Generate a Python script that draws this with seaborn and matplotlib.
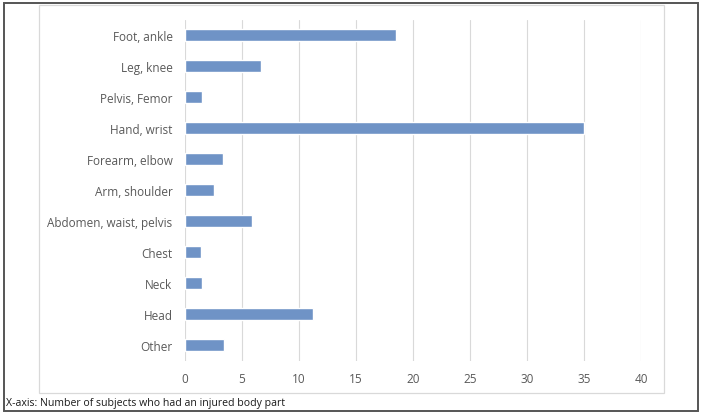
import matplotlib
matplotlib.use("Agg")
import matplotlib.pyplot as plt
import seaborn as sns
import pandas as pd
from matplotlib.patches import Rectangle

categories = ["Foot, ankle", "Leg, knee", "Pelvis, Femor", "Hand, wrist",
              "Forearm, elbow", "Arm, shoulder", "Abdomen, waist, pelvis",
              "Chest", "Neck", "Head", "Other"]
values = [18.5, 6.7, 1.5, 35.0, 3.3, 2.5, 5.9, 1.4, 1.5, 11.2, 3.4]
x_ticks = [0, 5, 10, 15, 20, 25, 30, 35, 40]
caption = "X-axis: Number of subjects who had an injured body part"

df = pd.DataFrame({"part": categories, "count": values})

sns.set_theme(style="white")
plt.rcParams["font.family"] = ["Open Sans", "DejaVu Sans"]

W, H = 702, 414
fig = plt.figure(figsize=(W / 100, H / 100), dpi=100)
fig.patch.set_facecolor("white")

# axes placement in pixels
x0, x1 = 185, 641
y_top, y_bot = 20.5, 361.5
ax = fig.add_axes([x0 / W, 1 - y_bot / H, (x1 - x0) / W, (y_bot - y_top) / H])

sns.barplot(data=df, x="count", y="part", order=categories, color="#6f93c6",
            width=0.37, saturation=1, ax=ax, orient="h")

ax.set_xlim(0, 40)
ax.set_xticks(x_ticks)
ax.set_xticklabels([str(t) for t in x_ticks])
ax.set_xlabel("")
ax.set_ylabel("")
ax.set_facecolor("none")
for s in ax.spines.values():
    s.set_visible(False)
ax.grid(axis="x", color="#d9d9d9", linewidth=0.8)
ax.grid(axis="y", visible=False)
ax.set_axisbelow(True)
ax.tick_params(axis="x", length=0, pad=8, labelsize=8.5, labelcolor="#595959")
ax.tick_params(axis="y", length=0, pad=9, labelsize=8.5, labelcolor="#595959")

# inner light border
fig.patches.append(Rectangle((39 / W, 1 - 394 / H), (664 - 39) / W, (394 - 6) / H,
                             transform=fig.transFigure, fill=False,
                             edgecolor="#d9d9d9", linewidth=0.9))
# outer dark frame
fig.patches.append(Rectangle((4 / W, 1 - 412 / H), (698 - 4) / W, (412 - 4) / H,
                             transform=fig.transFigure, fill=False,
                             edgecolor="#555555", linewidth=1.4))

fig.text(6 / W, 1 - 404 / H, caption, ha="left", va="center",
         fontsize=7.6, color="#1a1a1a")

fig.savefig("out.png", dpi=100)
